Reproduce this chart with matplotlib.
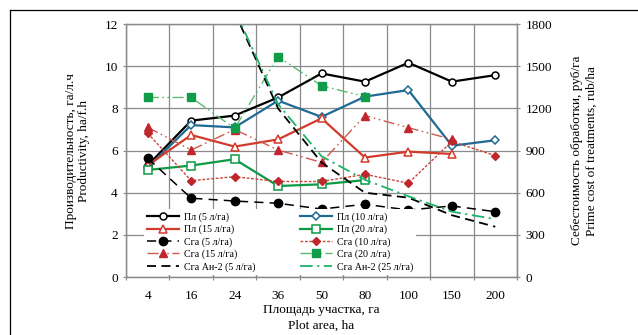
import numpy as np
import matplotlib
matplotlib.use("Agg")
import matplotlib.pyplot as plt
from matplotlib.lines import Line2D

plt.rcParams['font.family'] = ['Liberation Serif', 'DejaVu Serif']

categories = ["4", "16", "24", "36", "50", "80", "100", "150", "200"]

# Productivity (left axis, ha/f.h)
pl_5 = [5.3, 7.42, 7.66, 8.52, 9.66, 9.27, 10.17, 9.27, 9.58]
pl_10 = [5.2, 7.21, 7.1, 8.37, 7.6, 8.56, 8.87, 6.23, 6.49]
pl_15 = [5.3, 6.74, 6.19, 6.53, 7.53, 5.67, 5.95, 5.84, np.nan]
pl_20 = [5.08, 5.29, 5.59, 4.32, 4.4, 4.6, np.nan, np.nan, np.nan]

# Prime cost (right axis, rub/ha)
c_5 = [845, 561, 541, 525, 484, 518, 477, 506, 465]
c_10 = [1023, 686, 714, 680, 680, 731, 668, 965, 864]
c_15 = [1065, 904, 1050, 904, 816, 1149, 1063, 980, np.nan]
c_20 = [1278, 1278, 1058, 1568, 1362, 1284, np.nan, np.nan, np.nan]
c_an2_5 = [np.nan, np.nan, 1885, 1200, 815, 600, 565, 440, 358]
c_an2_25 = [np.nan, np.nan, 1900, 1230, 860, 692, 575, 465, 412]

x = np.arange(len(categories))

fig = plt.figure(figsize=(6.38, 3.35), dpi=100)
ax = fig.add_axes([0.1975, 0.173, 0.6129, 0.755])
ax2 = ax.twinx()

grid_c = '#8a8a8a'
ax.set_xlim(-0.5, 8.5)
ax.set_ylim(0, 12)
ax2.set_ylim(0, 1800)
ax.set_yticks(np.arange(0, 13, 2))
ax2.set_yticks(np.arange(0, 1801, 300))
ax.set_xticks(np.arange(-0.5, 9, 1))
ax.set_xticklabels([])
ax.set_xticks(x, minor=True)
ax.set_xticklabels(categories, minor=True)
ax.tick_params(axis='x', which='minor', length=0, pad=9, labelsize=9.5)
ax.tick_params(axis='x', which='major', length=5, color=grid_c, direction='inout')
ax.tick_params(axis='y', length=5, color=grid_c, labelsize=9.5, direction='inout')
ax2.tick_params(axis='y', length=5, color=grid_c, labelsize=9.5, direction='inout')
ax.grid(True, which='major', color=grid_c, linewidth=0.9)
ax.set_axisbelow(True)
for a in (ax, ax2):
    for s in a.spines.values():
        s.set_color(grid_c)
        s.set_linewidth(0.9)

ax.set_ylabel("Производительность, га/л.ч\nProductivity, ha/f.h", fontsize=9.5, labelpad=10)
ax2.set_ylabel("Себестоимость обработки, руб/га\nPrime cost of treatments, rub/ha", fontsize=9.5,
               rotation=90, labelpad=14)
ax.set_xlabel("Площадь участка, га\nPlot area, ha", fontsize=9.5, labelpad=2, linespacing=1.4)

blue = '#1f6a93'
red = '#d23b2c'
green = '#0d9a45'
dred = '#c0272d'

h = []
h.append(ax.plot(x, pl_5, color='black', lw=1.6, marker='o', ms=5, mfc='white', mec='black', mew=1.1,
                 label="Пл (5 л/га)", zorder=5)[0])
h.append(ax.plot(x, pl_10, color=blue, lw=1.6, marker='D', ms=4.2, mfc='white', mec=blue, mew=1.1,
                 label="Пл (10 л/га)", zorder=5)[0])
h.append(ax.plot(x, pl_15, color=red, lw=1.6, marker='^', ms=5.5, mfc='white', mec=red, mew=1.1,
                 label="Пл (15 л/га)", zorder=5)[0])
h.append(ax.plot(x, pl_20, color=green, lw=1.6, marker='s', ms=5.5, mfc='white', mec=green, mew=1.1,
                 label="Пл (20 л/га)", zorder=5)[0])

h.append(ax2.plot(x, c_5, color='black', lw=1.1, ls=(0, (6, 4)), marker='o', ms=6, mfc='black',
                  mec='black', label="Сга (5 л/га)")[0])
h.append(ax2.plot(x, c_10, color='#c8463a', lw=1.0, ls=(0, (2, 1.2)), marker='D', ms=3.8, mfc=dred,
                  mec=dred, label="Сга (10 л/га)")[0])
h.append(ax2.plot(x, c_15, color='#cf5a50', lw=1.0, ls=(0, (8, 2.5, 1.2, 2.5, 1.2, 2.5)), marker='^',
                  ms=5.5, mfc=dred, mec=dred, label="Сга (15 л/га)")[0])
h.append(ax2.plot(x, c_20, color='#5cbb70', lw=1.0, ls=(0, (8, 2.5, 1.2, 2.5, 1.2, 2.5)), marker='s',
                  ms=5.5, mfc='#109c48', mec='#109c48', label="Сга (20 л/га)")[0])
h.append(ax2.plot(x, c_an2_5, color='black', lw=1.3, ls=(0, (5, 3)), label="Сга Ан-2 (5 л/га)")[0])
h.append(ax2.plot(x, c_an2_25, color='#1fb36a', lw=1.3, ls=(0, (7, 2.5, 1.2, 2.5)),
                  label="Сга Ан-2 (25 л/га)")[0])

order = [0, 2, 4, 6, 8, 1, 3, 5, 7, 9]
leg = ax2.legend([h[i] for i in order], [h[i].get_label() for i in order], ncol=2,
                 loc='lower left', bbox_to_anchor=(0.045, 0.01), fontsize=7.2,
                 frameon=True, facecolor='white', edgecolor='none', framealpha=1,
                 handlelength=3.2, columnspacing=4.5, labelspacing=0.28, borderpad=0.3,
                 handletextpad=0.5, borderaxespad=0)
leg.set_zorder(20)

# figure frame lines (top and left)
fig.add_artist(Line2D([10 / 638, 1.0], [1 - 10 / 335, 1 - 10 / 335], color='black', lw=0.9,
                      transform=fig.transFigure))
fig.add_artist(Line2D([10 / 638, 10 / 638], [0, 1 - 10 / 335], color='black', lw=0.9,
                      transform=fig.transFigure))

fig.savefig("out.png", dpi=100)
